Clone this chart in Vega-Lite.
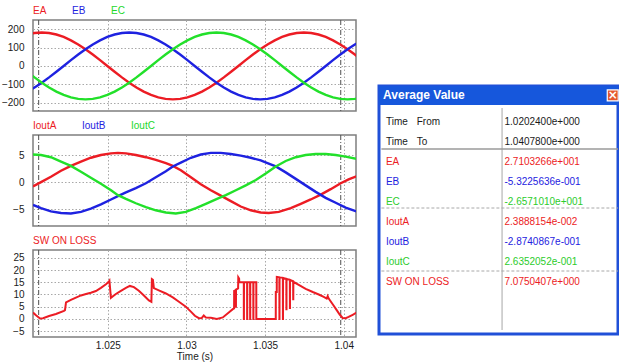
{
  "$schema": "https://vega.github.io/schema/vega-lite/v6.json",
  "padding": {"left": 0, "top": 5, "right": 0, "bottom": 0},
  "background": "white",
  "config": {
    "font": "Liberation Sans",
    "view": {"stroke": "#7f7f7f", "strokeWidth": 1.5},
    "axis": {"domain": false, "ticks": false, "labelFontSize": 10, "labelColor": "#1a1a1a", "labelFont": "Liberation Sans", "gridColor": "#a8a8a8", "gridDash": [1.5, 2], "gridWidth": 1, "labelOverlap": false},
    "legend": {"orient": "top", "direction": "horizontal", "offset": 4, "symbolSize": 1, "symbolOpacity": 0, "symbolStrokeWidth": 0, "labelOffset": -10, "columnPadding": 25, "labelFontSize": 10, "labelFont": "Liberation Sans", "padding": 0}
  },
  "datasets": {
    "volt": [
      {"t":1.019874,"s":"EA","v":171.0},{"t":1.020337,"s":"EA","v":179.2},{"t":1.0208,"s":"EA","v":182},{"t":1.021263,"s":"EA","v":179.2},{"t":1.021726,"s":"EA","v":171.0},{"t":1.022189,"s":"EA","v":157.6},{"t":1.022652,"s":"EA","v":139.4},{"t":1.023115,"s":"EA","v":117.0},{"t":1.023578,"s":"EA","v":91.0},{"t":1.024041,"s":"EA","v":62.2},{"t":1.024504,"s":"EA","v":31.6},{"t":1.024967,"s":"EA","v":0},{"t":1.02543,"s":"EA","v":-31.6},{"t":1.025893,"s":"EA","v":-62.2},{"t":1.026356,"s":"EA","v":-91.0},{"t":1.026819,"s":"EA","v":-117.0},{"t":1.027281,"s":"EA","v":-139.4},{"t":1.027744,"s":"EA","v":-157.6},{"t":1.028207,"s":"EA","v":-171.0},{"t":1.02867,"s":"EA","v":-179.2},{"t":1.029133,"s":"EA","v":-182},{"t":1.029596,"s":"EA","v":-179.2},{"t":1.030059,"s":"EA","v":-171.0},{"t":1.030522,"s":"EA","v":-157.6},{"t":1.030985,"s":"EA","v":-139.4},{"t":1.031448,"s":"EA","v":-117.0},{"t":1.031911,"s":"EA","v":-91.0},{"t":1.032374,"s":"EA","v":-62.2},{"t":1.032837,"s":"EA","v":-31.6},{"t":1.0333,"s":"EA","v":0},{"t":1.033763,"s":"EA","v":31.6},{"t":1.034226,"s":"EA","v":62.2},{"t":1.034689,"s":"EA","v":91.0},{"t":1.035152,"s":"EA","v":117.0},{"t":1.035615,"s":"EA","v":139.4},{"t":1.036078,"s":"EA","v":157.6},{"t":1.036541,"s":"EA","v":171.0},{"t":1.037004,"s":"EA","v":179.2},{"t":1.037467,"s":"EA","v":182},{"t":1.03793,"s":"EA","v":179.2},{"t":1.038393,"s":"EA","v":171.0},{"t":1.038856,"s":"EA","v":157.6},{"t":1.039319,"s":"EA","v":139.4},{"t":1.039781,"s":"EA","v":117.0},{"t":1.040244,"s":"EA","v":91.0},{"t":1.040707,"s":"EA","v":62.2},{"t":1.04117,"s":"EA","v":31.6},
      {"t":1.019874,"s":"EB","v":-139.4},{"t":1.020337,"s":"EB","v":-117.0},{"t":1.0208,"s":"EB","v":-91.0},{"t":1.021263,"s":"EB","v":-62.2},{"t":1.021726,"s":"EB","v":-31.6},{"t":1.022189,"s":"EB","v":0},{"t":1.022652,"s":"EB","v":31.6},{"t":1.023115,"s":"EB","v":62.2},{"t":1.023578,"s":"EB","v":91.0},{"t":1.024041,"s":"EB","v":117.0},{"t":1.024504,"s":"EB","v":139.4},{"t":1.024967,"s":"EB","v":157.6},{"t":1.02543,"s":"EB","v":171.0},{"t":1.025893,"s":"EB","v":179.2},{"t":1.026356,"s":"EB","v":182},{"t":1.026819,"s":"EB","v":179.2},{"t":1.027281,"s":"EB","v":171.0},{"t":1.027744,"s":"EB","v":157.6},{"t":1.028207,"s":"EB","v":139.4},{"t":1.02867,"s":"EB","v":117.0},{"t":1.029133,"s":"EB","v":91.0},{"t":1.029596,"s":"EB","v":62.2},{"t":1.030059,"s":"EB","v":31.6},{"t":1.030522,"s":"EB","v":0},{"t":1.030985,"s":"EB","v":-31.6},{"t":1.031448,"s":"EB","v":-62.2},{"t":1.031911,"s":"EB","v":-91.0},{"t":1.032374,"s":"EB","v":-117.0},{"t":1.032837,"s":"EB","v":-139.4},{"t":1.0333,"s":"EB","v":-157.6},{"t":1.033763,"s":"EB","v":-171.0},{"t":1.034226,"s":"EB","v":-179.2},{"t":1.034689,"s":"EB","v":-182},{"t":1.035152,"s":"EB","v":-179.2},{"t":1.035615,"s":"EB","v":-171.0},{"t":1.036078,"s":"EB","v":-157.6},{"t":1.036541,"s":"EB","v":-139.4},{"t":1.037004,"s":"EB","v":-117.0},{"t":1.037467,"s":"EB","v":-91.0},{"t":1.03793,"s":"EB","v":-62.2},{"t":1.038393,"s":"EB","v":-31.6},{"t":1.038856,"s":"EB","v":0},{"t":1.039319,"s":"EB","v":31.6},{"t":1.039781,"s":"EB","v":62.2},{"t":1.040244,"s":"EB","v":91.0},{"t":1.040707,"s":"EB","v":117.0},{"t":1.04117,"s":"EB","v":139.4},
      {"t":1.019874,"s":"EC","v":-31.6},{"t":1.020337,"s":"EC","v":-62.2},{"t":1.0208,"s":"EC","v":-91.0},{"t":1.021263,"s":"EC","v":-117.0},{"t":1.021726,"s":"EC","v":-139.4},{"t":1.022189,"s":"EC","v":-157.6},{"t":1.022652,"s":"EC","v":-171.0},{"t":1.023115,"s":"EC","v":-179.2},{"t":1.023578,"s":"EC","v":-182},{"t":1.024041,"s":"EC","v":-179.2},{"t":1.024504,"s":"EC","v":-171.0},{"t":1.024967,"s":"EC","v":-157.6},{"t":1.02543,"s":"EC","v":-139.4},{"t":1.025893,"s":"EC","v":-117.0},{"t":1.026356,"s":"EC","v":-91.0},{"t":1.026819,"s":"EC","v":-62.2},{"t":1.027281,"s":"EC","v":-31.6},{"t":1.027744,"s":"EC","v":0},{"t":1.028207,"s":"EC","v":31.6},{"t":1.02867,"s":"EC","v":62.2},{"t":1.029133,"s":"EC","v":91.0},{"t":1.029596,"s":"EC","v":117.0},{"t":1.030059,"s":"EC","v":139.4},{"t":1.030522,"s":"EC","v":157.6},{"t":1.030985,"s":"EC","v":171.0},{"t":1.031448,"s":"EC","v":179.2},{"t":1.031911,"s":"EC","v":182},{"t":1.032374,"s":"EC","v":179.2},{"t":1.032837,"s":"EC","v":171.0},{"t":1.0333,"s":"EC","v":157.6},{"t":1.033763,"s":"EC","v":139.4},{"t":1.034226,"s":"EC","v":117.0},{"t":1.034689,"s":"EC","v":91.0},{"t":1.035152,"s":"EC","v":62.2},{"t":1.035615,"s":"EC","v":31.6},{"t":1.036078,"s":"EC","v":0},{"t":1.036541,"s":"EC","v":-31.6},{"t":1.037004,"s":"EC","v":-62.2},{"t":1.037467,"s":"EC","v":-91.0},{"t":1.03793,"s":"EC","v":-117.0},{"t":1.038393,"s":"EC","v":-139.4},{"t":1.038856,"s":"EC","v":-157.6},{"t":1.039319,"s":"EC","v":-171.0},{"t":1.039781,"s":"EC","v":-179.2},{"t":1.040244,"s":"EC","v":-182},{"t":1.040707,"s":"EC","v":-179.2},{"t":1.04117,"s":"EC","v":-171.0}
    ],
    "curr": [
      {"t":1.02024,"s":"IoutA","v":-0.8},{"t":1.02075,"s":"IoutA","v":0.0},{"t":1.02138,"s":"IoutA","v":1.0},{"t":1.02202,"s":"IoutA","v":2.1},{"t":1.02265,"s":"IoutA","v":3.0},{"t":1.02329,"s":"IoutA","v":3.8},{"t":1.02392,"s":"IoutA","v":4.5},{"t":1.02456,"s":"IoutA","v":5.0},{"t":1.0252,"s":"IoutA","v":5.3},{"t":1.02564,"s":"IoutA","v":5.4},{"t":1.02615,"s":"IoutA","v":5.3},{"t":1.02678,"s":"IoutA","v":5.0},{"t":1.02742,"s":"IoutA","v":4.6},{"t":1.02805,"s":"IoutA","v":4.1},{"t":1.02869,"s":"IoutA","v":3.5},{"t":1.02913,"s":"IoutA","v":3.0},{"t":1.02964,"s":"IoutA","v":2.2},{"t":1.03028,"s":"IoutA","v":0.9},{"t":1.03091,"s":"IoutA","v":-0.4},{"t":1.03155,"s":"IoutA","v":-1.5},{"t":1.03218,"s":"IoutA","v":-2.5},{"t":1.03282,"s":"IoutA","v":-3.5},{"t":1.03345,"s":"IoutA","v":-4.5},{"t":1.03409,"s":"IoutA","v":-5.2},{"t":1.03472,"s":"IoutA","v":-5.6},{"t":1.03523,"s":"IoutA","v":-5.7},{"t":1.03587,"s":"IoutA","v":-5.5},{"t":1.03663,"s":"IoutA","v":-4.8},{"t":1.03727,"s":"IoutA","v":-4.0},{"t":1.0379,"s":"IoutA","v":-3.2},{"t":1.03854,"s":"IoutA","v":-2.3},{"t":1.03917,"s":"IoutA","v":-1.3},{"t":1.03981,"s":"IoutA","v":-0.2},{"t":1.04031,"s":"IoutA","v":0.5},{"t":1.04082,"s":"IoutA","v":1.1},
      {"t":1.02024,"s":"IoutB","v":-4.2},{"t":1.02075,"s":"IoutB","v":-4.8},{"t":1.02138,"s":"IoutB","v":-5.4},{"t":1.02202,"s":"IoutB","v":-5.7},{"t":1.02265,"s":"IoutB","v":-5.8},{"t":1.02329,"s":"IoutB","v":-5.5},{"t":1.02392,"s":"IoutB","v":-4.9},{"t":1.02456,"s":"IoutB","v":-4.1},{"t":1.0252,"s":"IoutB","v":-3.2},{"t":1.02564,"s":"IoutB","v":-2.6},{"t":1.02615,"s":"IoutB","v":-1.9},{"t":1.02678,"s":"IoutB","v":-1.1},{"t":1.02742,"s":"IoutB","v":-0.2},{"t":1.02805,"s":"IoutB","v":0.9},{"t":1.02869,"s":"IoutB","v":2.0},{"t":1.02913,"s":"IoutB","v":2.9},{"t":1.02964,"s":"IoutB","v":3.6},{"t":1.03028,"s":"IoutB","v":4.5},{"t":1.03091,"s":"IoutB","v":5.1},{"t":1.03155,"s":"IoutB","v":5.4},{"t":1.03218,"s":"IoutB","v":5.4},{"t":1.03282,"s":"IoutB","v":5.2},{"t":1.03345,"s":"IoutB","v":4.9},{"t":1.03409,"s":"IoutB","v":4.5},{"t":1.03472,"s":"IoutB","v":4.0},{"t":1.03523,"s":"IoutB","v":3.4},{"t":1.03568,"s":"IoutB","v":2.9},{"t":1.03631,"s":"IoutB","v":1.8},{"t":1.03695,"s":"IoutB","v":0.6},{"t":1.03758,"s":"IoutB","v":-0.6},{"t":1.03822,"s":"IoutB","v":-1.8},{"t":1.03885,"s":"IoutB","v":-2.9},{"t":1.03949,"s":"IoutB","v":-3.8},{"t":1.04012,"s":"IoutB","v":-4.7},{"t":1.04082,"s":"IoutB","v":-5.4},
      {"t":1.02024,"s":"IoutC","v":5.1},{"t":1.02075,"s":"IoutC","v":5.0},{"t":1.02138,"s":"IoutC","v":4.6},{"t":1.02202,"s":"IoutC","v":3.8},{"t":1.02265,"s":"IoutC","v":3.0},{"t":1.02329,"s":"IoutC","v":1.9},{"t":1.02392,"s":"IoutC","v":0.8},{"t":1.02456,"s":"IoutC","v":-0.3},{"t":1.0252,"s":"IoutC","v":-1.5},{"t":1.02564,"s":"IoutC","v":-2.4},{"t":1.02615,"s":"IoutC","v":-3.1},{"t":1.02678,"s":"IoutC","v":-3.9},{"t":1.02742,"s":"IoutC","v":-4.6},{"t":1.02805,"s":"IoutC","v":-5.2},{"t":1.02869,"s":"IoutC","v":-5.6},{"t":1.02932,"s":"IoutC","v":-5.8},{"t":1.02996,"s":"IoutC","v":-5.5},{"t":1.0306,"s":"IoutC","v":-4.8},{"t":1.03123,"s":"IoutC","v":-4.0},{"t":1.03187,"s":"IoutC","v":-3.2},{"t":1.0325,"s":"IoutC","v":-2.4},{"t":1.03314,"s":"IoutC","v":-1.5},{"t":1.03377,"s":"IoutC","v":-0.6},{"t":1.03441,"s":"IoutC","v":0.4},{"t":1.03504,"s":"IoutC","v":1.6},{"t":1.03568,"s":"IoutC","v":2.9},{"t":1.03631,"s":"IoutC","v":3.9},{"t":1.03695,"s":"IoutC","v":4.6},{"t":1.03758,"s":"IoutC","v":5.0},{"t":1.03822,"s":"IoutC","v":5.2},{"t":1.03885,"s":"IoutC","v":5.2},{"t":1.03949,"s":"IoutC","v":5.0},{"t":1.04012,"s":"IoutC","v":4.7},{"t":1.04082,"s":"IoutC","v":4.3}
    ],
    "loss": [
      {"t":1.02024,"v":2.6},{"t":1.02043,"v":1.5},{"t":1.020685,"v":0.2},{"t":1.02088,"v":0.3},{"t":1.02126,"v":1.2},{"t":1.0217,"v":2.0},{"t":1.02221,"v":3.3},{"t":1.022273,"v":3.6},{"t":1.02234,"v":6.8},{"t":1.02265,"v":7.8},{"t":1.02297,"v":8.7},{"t":1.02329,"v":9.6},{"t":1.02361,"v":10.2},{"t":1.02392,"v":10.7},{"t":1.02424,"v":11.4},{"t":1.02456,"v":12.7},{"t":1.02488,"v":14.2},{"t":1.02507,"v":15.3},{"t":1.0251,"v":15.6},{"t":1.025195,"v":8.6},{"t":1.02551,"v":10.2},{"t":1.02583,"v":11.5},{"t":1.02615,"v":12.7},{"t":1.0264,"v":13.5},{"t":1.026657,"v":13.0},{"t":1.02697,"v":11.5},{"t":1.027292,"v":9.6},{"t":1.02761,"v":7.6},{"t":1.027768,"v":7.0},{"t":1.0278,"v":16.3},{"t":1.027864,"v":16.0},{"t":1.027927,"v":12.6},{"t":1.02824,"v":11.7},{"t":1.02869,"v":10.4},{"t":1.02913,"v":8.8},{"t":1.02952,"v":7.0},{"t":1.02996,"v":5.0},{"t":1.03028,"v":3.0},{"t":1.030532,"v":1.3},{"t":1.03079,"v":0.3},{"t":1.030977,"v":0.4},{"t":1.0311,"v":1.4},{"t":1.03123,"v":0.6},{"t":1.03155,"v":0.5},{"t":1.03193,"v":0.0},{"t":1.03231,"v":0.6},{"t":1.03269,"v":2.6},{"t":1.032946,"v":4.0},{"t":1.033029,"v":4.3},{"t":1.033032,"v":11.5},{"t":1.033137,"v":11.8},{"t":1.03314,"v":5.0},{"t":1.033146,"v":5.0},{"t":1.033149,"v":12.0},{"t":1.033283,"v":12.5},{"t":1.033295,"v":17.0},{"t":1.033346,"v":16.5},{"t":1.033359,"v":15.0},
      {"t":1.033645,"v":15.0},{"t":1.033648,"v":0},{"t":1.033654,"v":0},{"t":1.033657,"v":15.0},
      {"t":1.033855,"v":15.0},{"t":1.033858,"v":0},{"t":1.033864,"v":0},{"t":1.033867,"v":15.0},
      {"t":1.034045,"v":15.0},{"t":1.034048,"v":0},{"t":1.034054,"v":0},{"t":1.034057,"v":15.0},
      {"t":1.034248,"v":15.0},{"t":1.034251,"v":0},{"t":1.034257,"v":0},{"t":1.03426,"v":15.0},
      {"t":1.034439,"v":15.0},{"t":1.034442,"v":0},{"t":1.035042,"v":0},{"t":1.035678,"v":0},
      {"t":1.035681,"v":11.0},{"t":1.035741,"v":11.0},{"t":1.035744,"v":17.2},
      {"t":1.035907,"v":17.0},{"t":1.03591,"v":0},{"t":1.035916,"v":0},{"t":1.035919,"v":17.0},
      {"t":1.036129,"v":16.8},{"t":1.036132,"v":0},{"t":1.036138,"v":0},{"t":1.036141,"v":16.7},
      {"t":1.036351,"v":16.4},{"t":1.036354,"v":4.0},{"t":1.03636,"v":4.0},{"t":1.036363,"v":16.3},
      {"t":1.036574,"v":16.0},{"t":1.036577,"v":4.5},{"t":1.036583,"v":4.5},{"t":1.036586,"v":15.9},
      {"t":1.036784,"v":15.4},{"t":1.036787,"v":8.0},{"t":1.036793,"v":8.0},{"t":1.036796,"v":15.2},
      {"t":1.037139,"v":13.9},{"t":1.03758,"v":12.3},{"t":1.03803,"v":11.0},{"t":1.03841,"v":10.0},{"t":1.038727,"v":9.0},{"t":1.038918,"v":8.3},{"t":1.03898,"v":9.3},{"t":1.039045,"v":8.3},{"t":1.039299,"v":6.0},{"t":1.039553,"v":3.6},{"t":1.039744,"v":1.8},{"t":1.03993,"v":0.4},{"t":1.04012,"v":0.3},{"t":1.04031,"v":0.8},{"t":1.04057,"v":1.7},{"t":1.04082,"v":2.6}
    ],
    "cur": [{"t":1.0206},{"t":1.03981}],
    "table": [
      {"row":1,"name":"Time","sub":"From","value":"1.0202400e+000","grp":"T"},
      {"row":2,"name":"Time","sub":"To","value":"1.0407800e+000","grp":"T"},
      {"row":3,"name":"EA","sub":"","value":"2.7103266e+001","grp":"A"},
      {"row":4,"name":"EB","sub":"","value":"-5.3225636e-001","grp":"B"},
      {"row":5,"name":"EC","sub":"","value":"-2.6571010e+001","grp":"C"},
      {"row":6,"name":"IoutA","sub":"","value":"2.3888154e-002","grp":"A"},
      {"row":7,"name":"IoutB","sub":"","value":"-2.8740867e-001","grp":"B"},
      {"row":8,"name":"IoutC","sub":"","value":"2.6352052e-001","grp":"C"},
      {"row":9,"name":"SW ON LOSS","sub":"","value":"7.0750407e+000","grp":"A"}
    ]
  },
  "spacing": 20,
  "resolve": {"scale": {"color": "independent"}, "legend": {"color": "independent"}},
  "hconcat": [
    {
      "spacing": 7,
      "resolve": {"scale": {"color": "independent", "x": "independent", "y": "independent"}, "legend": {"color": "independent"}},
      "vconcat": [
        {
          "width": 323, "height": 91,
          "layer": [
            {"data": {"name": "cur"}, "mark": {"type": "rule", "color": "#505050", "strokeDash": [5, 2, 1, 2], "strokeWidth": 1},
             "encoding": {"x": {"field": "t", "type": "quantitative", "scale": {"domain": [1.02024, 1.04078], "nice": false, "zero": false}}}},
            {"data": {"name": "volt"}, "mark": {"type": "line", "clip": true, "strokeWidth": 2.4},
             "encoding": {
               "x": {"field": "t", "type": "quantitative", "scale": {"domain": [1.02024, 1.04078], "nice": false, "zero": false}, "axis": {"values": [1.025, 1.03, 1.035, 1.04], "labels": false, "grid": true, "minExtent": 0, "maxExtent": 0}, "title": null},
               "y": {"field": "v", "type": "quantitative", "scale": {"domain": [-245, 250], "nice": false, "zero": false}, "axis": {"values": [-200, -100, 0, 100, 200], "labelPadding": 9, "minExtent": 32, "maxExtent": 32}, "title": null},
               "color": {"field": "s", "type": "nominal", "scale": {"domain": ["EA", "EB", "EC"], "range": ["#ec1c24", "#1e22e0", "#22e02a"]},
                 "legend": {"title": null, "encode": {"labels": {"update": {"fill": {"signal": "indexof(['EA','IoutA','SW ON LOSS'], datum.value) >= 0 ? '#ec1c24' : (indexof(['EB','IoutB'], datum.value) >= 0 ? '#1e22e0' : '#22d82a')"}}}}}}
             }}
          ]
        },
        {
          "width": 323, "height": 91,
          "layer": [
            {"data": {"name": "cur"}, "mark": {"type": "rule", "color": "#505050", "strokeDash": [5, 2, 1, 2], "strokeWidth": 1},
             "encoding": {"x": {"field": "t", "type": "quantitative", "scale": {"domain": [1.02024, 1.04078], "nice": false, "zero": false}}}},
            {"data": {"name": "curr"}, "mark": {"type": "line", "clip": true, "strokeWidth": 2.4},
             "encoding": {
               "x": {"field": "t", "type": "quantitative", "scale": {"domain": [1.02024, 1.04078], "nice": false, "zero": false}, "axis": {"values": [1.025, 1.03, 1.035, 1.04], "labels": false, "grid": true, "minExtent": 0, "maxExtent": 0}, "title": null},
               "y": {"field": "v", "type": "quantitative", "scale": {"domain": [-8.1, 8.7], "nice": false, "zero": false}, "axis": {"values": [-5, 0, 5], "labelPadding": 9, "minExtent": 32, "maxExtent": 32}, "title": null},
               "color": {"field": "s", "type": "nominal", "scale": {"domain": ["IoutA", "IoutB", "IoutC"], "range": ["#ec1c24", "#1e22e0", "#22e02a"]},
                 "legend": {"title": null, "encode": {"labels": {"update": {"fill": {"signal": "indexof(['EA','IoutA','SW ON LOSS'], datum.value) >= 0 ? '#ec1c24' : (indexof(['EB','IoutB'], datum.value) >= 0 ? '#1e22e0' : '#22d82a')"}}}}}}
             }}
          ]
        },
        {
          "width": 323, "height": 87,
          "layer": [
            {"data": {"name": "cur"}, "mark": {"type": "rule", "color": "#505050", "strokeDash": [5, 2, 1, 2], "strokeWidth": 1},
             "encoding": {"x": {"field": "t", "type": "quantitative", "scale": {"domain": [1.02024, 1.04078], "nice": false, "zero": false}}}},
            {"data": {"name": "loss"}, "mark": {"type": "line", "clip": true, "strokeWidth": 2},
             "encoding": {
               "x": {"field": "t", "type": "quantitative", "scale": {"domain": [1.02024, 1.04078], "nice": false, "zero": false}, "axis": {"values": [1.025, 1.03, 1.035, 1.04], "format": "~g", "labelPadding": 3, "grid": true, "title": "Time (s)", "titleFontSize": 10, "titleFontWeight": "normal", "titleColor": "#1a1a1a", "titlePadding": 1, "titleFont": "Liberation Sans"}},
               "y": {"field": "v", "type": "quantitative", "scale": {"domain": [-7.4, 28.2], "nice": false, "zero": false}, "axis": {"values": [-5, 0, 5, 10, 15, 20, 25], "labelPadding": 9, "minExtent": 32, "maxExtent": 32}, "title": null},
               "color": {"datum": "SW ON LOSS", "type": "nominal", "scale": {"domain": ["SW ON LOSS"], "range": ["#ec1c24"]},
                 "legend": {"title": null, "encode": {"labels": {"update": {"fill": {"value": "#ec1c24"}}}}}}
             }}
          ]
        }
      ]
    },
    {
      "spacing": 2,
      "vconcat": [
        {"width": 239, "height": 62, "data": {"values": [{}]}, "mark": {"type": "point", "opacity": 0}, "encoding": {}, "view": {"stroke": null}},
        {
          "width": 239, "height": 248,
          "view": {"stroke": "#2050d8", "strokeWidth": 3, "fill": "white"},
          "layer": [
            {"data": {"values": [{"title": "Average Value"}]}, "mark": {"type": "rect", "color": "#1657dc"},
             "encoding": {"x": {"datum": 0, "type": "quantitative", "scale": {"domain": [0, 1]}, "axis": null}, "x2": {"datum": 1}, "y": {"datum": -0.8, "type": "quantitative", "scale": {"domain": [-0.8, 11.6], "reverse": true}, "axis": null}, "y2": {"datum": 0.15}}},
            {"data": {"values": [{"title": "Average Value"}]}, "mark": {"type": "text", "align": "left", "baseline": "middle", "fontSize": 12, "fontWeight": "bold", "color": "white", "font": "Liberation Sans"},
             "encoding": {"x": {"datum": 0.017, "type": "quantitative", "scale": {"domain": [0, 1]}, "axis": null}, "y": {"datum": -0.33, "type": "quantitative", "scale": {"domain": [-0.8, 11.6], "reverse": true}, "axis": null}, "text": {"field": "title"}}},
            {"data": {"values": [{"k": "close"}]}, "mark": {"type": "square", "size": 120, "filled": true, "color": "#e4572e", "stroke": "white", "strokeWidth": 1.2, "opacity": 1},
             "encoding": {"x": {"datum": 0.978, "type": "quantitative", "scale": {"domain": [0, 1]}, "axis": null}, "y": {"datum": -0.33, "type": "quantitative", "scale": {"domain": [-0.8, 11.6], "reverse": true}, "axis": null}}},
            {"data": {"values": [{"k": "×"}]}, "mark": {"type": "text", "align": "center", "baseline": "middle", "fontSize": 12, "fontWeight": "bold", "color": "white", "font": "DejaVu Sans"},
             "encoding": {"x": {"datum": 0.978, "type": "quantitative", "scale": {"domain": [0, 1]}, "axis": null}, "y": {"datum": -0.36, "type": "quantitative", "scale": {"domain": [-0.8, 11.6], "reverse": true}, "axis": null}, "text": {"field": "k"}}},
            {"data": {"values": [{}]}, "mark": {"type": "rule", "color": "#c4c4c4", "strokeWidth": 1.5},
             "encoding": {"x": {"datum": 0.515, "type": "quantitative", "scale": {"domain": [0, 1]}, "axis": null}, "y": {"datum": 0.3, "type": "quantitative", "scale": {"domain": [-0.8, 11.6], "reverse": true}, "axis": null}, "y2": {"datum": 11.4}}},
            {"data": {"values": [{}]}, "mark": {"type": "rule", "color": "#9a9a9a", "strokeWidth": 1.5},
             "encoding": {"x": {"datum": 0.01, "type": "quantitative", "scale": {"domain": [0, 1]}, "axis": null}, "x2": {"datum": 1}, "y": {"datum": 2.35, "type": "quantitative", "scale": {"domain": [-0.8, 11.6], "reverse": true}, "axis": null}}},
            {"data": {"values": [{}]}, "mark": {"type": "rule", "color": "#a8a8a8", "strokeWidth": 1, "strokeDash": [3, 2]},
             "encoding": {"x": {"datum": 0.01, "type": "quantitative", "scale": {"domain": [0, 1]}, "axis": null}, "x2": {"datum": 1}, "y": {"datum": 5.3, "type": "quantitative", "scale": {"domain": [-0.8, 11.6], "reverse": true}, "axis": null}}},
            {"data": {"values": [{}]}, "mark": {"type": "rule", "color": "#a8a8a8", "strokeWidth": 1, "strokeDash": [3, 2]},
             "encoding": {"x": {"datum": 0.01, "type": "quantitative", "scale": {"domain": [0, 1]}, "axis": null}, "x2": {"datum": 1}, "y": {"datum": 8.45, "type": "quantitative", "scale": {"domain": [-0.8, 11.6], "reverse": true}, "axis": null}}},
            {"data": {"name": "table"}, "mark": {"type": "text", "align": "left", "baseline": "middle", "fontSize": 10, "font": "Liberation Sans"},
             "encoding": {"x": {"datum": 0.029, "type": "quantitative", "scale": {"domain": [0, 1]}, "axis": null}, "y": {"field": "row", "type": "quantitative", "scale": {"domain": [-0.8, 11.6], "reverse": true}, "axis": null}, "text": {"field": "name"},
               "color": {"field": "grp", "type": "nominal", "scale": {"domain": ["T", "A", "B", "C"], "range": ["#1a1a1a", "#ec1c24", "#1e22e0", "#2ccc2c"]}, "legend": null}}},
            {"data": {"name": "table"}, "mark": {"type": "text", "align": "left", "baseline": "middle", "fontSize": 10, "font": "Liberation Sans"},
             "encoding": {"x": {"datum": 0.158, "type": "quantitative", "scale": {"domain": [0, 1]}, "axis": null}, "y": {"field": "row", "type": "quantitative", "scale": {"domain": [-0.8, 11.6], "reverse": true}, "axis": null}, "text": {"field": "sub"},
               "color": {"field": "grp", "type": "nominal", "scale": {"domain": ["T", "A", "B", "C"], "range": ["#1a1a1a", "#ec1c24", "#1e22e0", "#2ccc2c"]}, "legend": null}}},
            {"data": {"name": "table"}, "mark": {"type": "text", "align": "left", "baseline": "middle", "fontSize": 10, "font": "Liberation Sans"},
             "encoding": {"x": {"datum": 0.525, "type": "quantitative", "scale": {"domain": [0, 1]}, "axis": null}, "y": {"field": "row", "type": "quantitative", "scale": {"domain": [-0.8, 11.6], "reverse": true}, "axis": null}, "text": {"field": "value"},
               "color": {"field": "grp", "type": "nominal", "scale": {"domain": ["T", "A", "B", "C"], "range": ["#1a1a1a", "#ec1c24", "#1e22e0", "#2ccc2c"]}, "legend": null}}}
          ]
        }
      ]
    }
  ]
}
